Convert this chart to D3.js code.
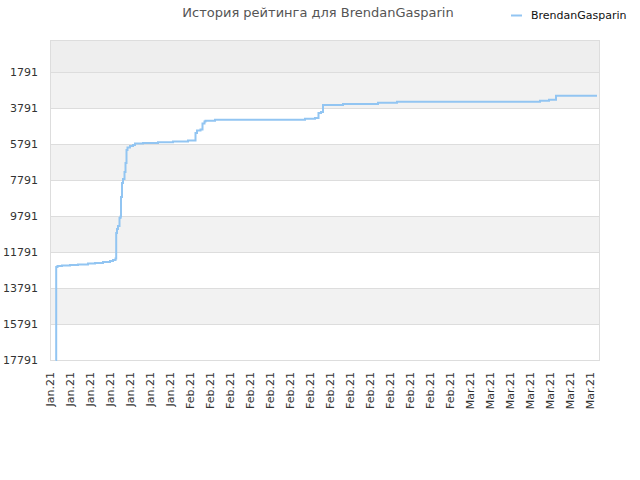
<!DOCTYPE html>
<html>
<head>
<meta charset="utf-8">
<script src="https://cdn.jsdelivr.net/npm/d3@7"></script>
<style>
  body { margin: 0; background: #fff; }
  text { font-family: "DejaVu Sans", sans-serif; }
</style>
</head>
<body>
<div id="chart"></div>
<script>
// tick labels along the bottom
const xLabels = [
    "Jan.21", "Jan.21", "Jan.21", "Jan.21", "Jan.21", "Jan.21", "Jan.21",
    "Feb.21", "Feb.21", "Feb.21", "Feb.21", "Feb.21", "Feb.21", "Feb.21",
    "Feb.21", "Feb.21", "Feb.21", "Feb.21", "Feb.21", "Feb.21", "Feb.21",
    "Mar.21", "Mar.21", "Mar.21", "Mar.21", "Mar.21", "Mar.21", "Mar.21"
]
const yTicks = [1791, 3791, 5791, 7791, 9791, 11791, 13791, 15791, 17791]

// rating history: position (in label steps) and rank
const steps = [0.275, 0.31, 0.375, 0.6, 1.0, 1.4, 1.9, 2.25, 2.65, 3.0, 3.15, 3.275,
    3.31, 3.35, 3.4, 3.475, 3.525, 3.55, 3.6, 3.65, 3.725, 3.775, 3.825, 3.875,
    4.0, 4.15, 4.25, 4.65, 5.4, 6.15, 6.9, 7.275, 7.35, 7.525, 7.625, 7.725,
    7.775, 8.25, 12.75, 13.25, 13.425, 13.55, 13.65, 14.65, 16.4, 17.35,
    24.5, 24.95, 25.3, 27.35]
const ranks = [17791, 12624, 12569, 12541, 12513, 12486, 12430, 12402, 12347, 12291, 12236, 12152,
    10736, 10513, 10347, 9902, 9819, 8736, 7958, 7736, 7347, 6847, 6125, 5986,
    5902, 5847, 5763, 5736, 5697, 5652, 5597, 5180, 5041, 4985, 4652, 4541,
    4497, 4441, 4385, 4346, 4069, 4013, 3624, 3569, 3496, 3441,
    3385, 3330, 3107, 3107]

const playerName = "BrendanGasparin"

const width = 640, height = 480
const plot = { left: 50, right: 600, top: 40, bottom: 360 }

const svg = d3.select("#chart").append("svg")
    .attr("width", width)
    .attr("height", height)

const x = d3.scaleLinear().domain([0, xLabels.length - 1]).range([50, 590])
const y = d3.scaleLinear().domain([13, 17791]).range([plot.top, plot.bottom])

// background bands between the grid lines
const bandEdges = [y.domain()[0]].concat(yTicks)
const bands = d3.pairs(bandEdges)
svg.append("g").selectAll("rect")
    .data(bands)
    .join("rect")
    .attr("x", plot.left)
    .attr("width", plot.right - plot.left)
    .attr("y", d => y(d[0]))
    .attr("height", d => y(d[1]) - y(d[0]))
    .attr("fill", (d, i) => i == 0 ? "#eeeeee" : (i % 2 == 1 ? "#f2f2f2" : "#ffffff"))

// grid lines
svg.append("g").selectAll("line")
    .data(yTicks)
    .join("line")
    .attr("x1", plot.left).attr("x2", plot.right)
    .attr("y1", d => y(d) + 0.5).attr("y2", d => y(d) + 0.5)
    .attr("stroke", "#dddddd")

// frame
svg.append("rect")
    .attr("x", plot.left + 0.5).attr("y", plot.top + 0.5)
    .attr("width", plot.right - plot.left - 1)
    .attr("height", plot.bottom - plot.top)
    .attr("fill", "none")
    .attr("stroke", "#dddddd")

// y axis labels
const yAxis = svg.append("g")
    .attr("transform", `translate(${plot.left},0)`)
    .call(d3.axisLeft(y).tickValues(yTicks).tickFormat(d3.format("d")).tickSize(0).tickPadding(12))
yAxis.select(".domain").remove()
yAxis.selectAll("text")
    .attr("font-family", "DejaVu Sans")
    .attr("font-size", 11)
    .attr("fill", "#333")

// x axis labels, rotated
const xAxis = svg.append("g")
    .attr("transform", `translate(0,${plot.bottom})`)
    .call(d3.axisBottom(x).tickValues(d3.range(xLabels.length)).tickFormat(i => xLabels[i]).tickSize(0))
xAxis.select(".domain").remove()
xAxis.selectAll("text")
    .attr("font-family", "DejaVu Sans")
    .attr("font-size", 11)
    .attr("fill", "#333")
    .attr("text-anchor", "end")
    .attr("dy", "0.35em")
    .attr("transform", "translate(0,12) rotate(-90)")
    .attr("y", 0)
    .attr("x", 0)

// the rating line
const points = steps.map((s, i) => [s, ranks[i]])
const line = d3.line()
    .x(d => x(d[0]))
    .y(d => y(d[1]))
    .curve(d3.curveStepAfter)

svg.append("path")
    .datum(points)
    .attr("fill", "none")
    .attr("stroke", "#92c5f2")
    .attr("stroke-width", 2)
    .attr("d", line)

// title
svg.append("text")
    .attr("x", 318)
    .attr("y", 17)
    .attr("text-anchor", "middle")
    .attr("font-size", 13)
    .attr("fill", "#555")
    .text("История рейтинга для " + playerName)

// legend
svg.append("line")
    .attr("x1", 511).attr("x2", 522)
    .attr("y1", 15.5).attr("y2", 15.5)
    .attr("stroke", "#92c5f2")
    .attr("stroke-width", 2)
svg.append("text")
    .attr("x", 531)
    .attr("y", 19)
    .attr("font-size", 11)
    .attr("fill", "#111")
    .text(playerName)
</script>
</body>
</html>
